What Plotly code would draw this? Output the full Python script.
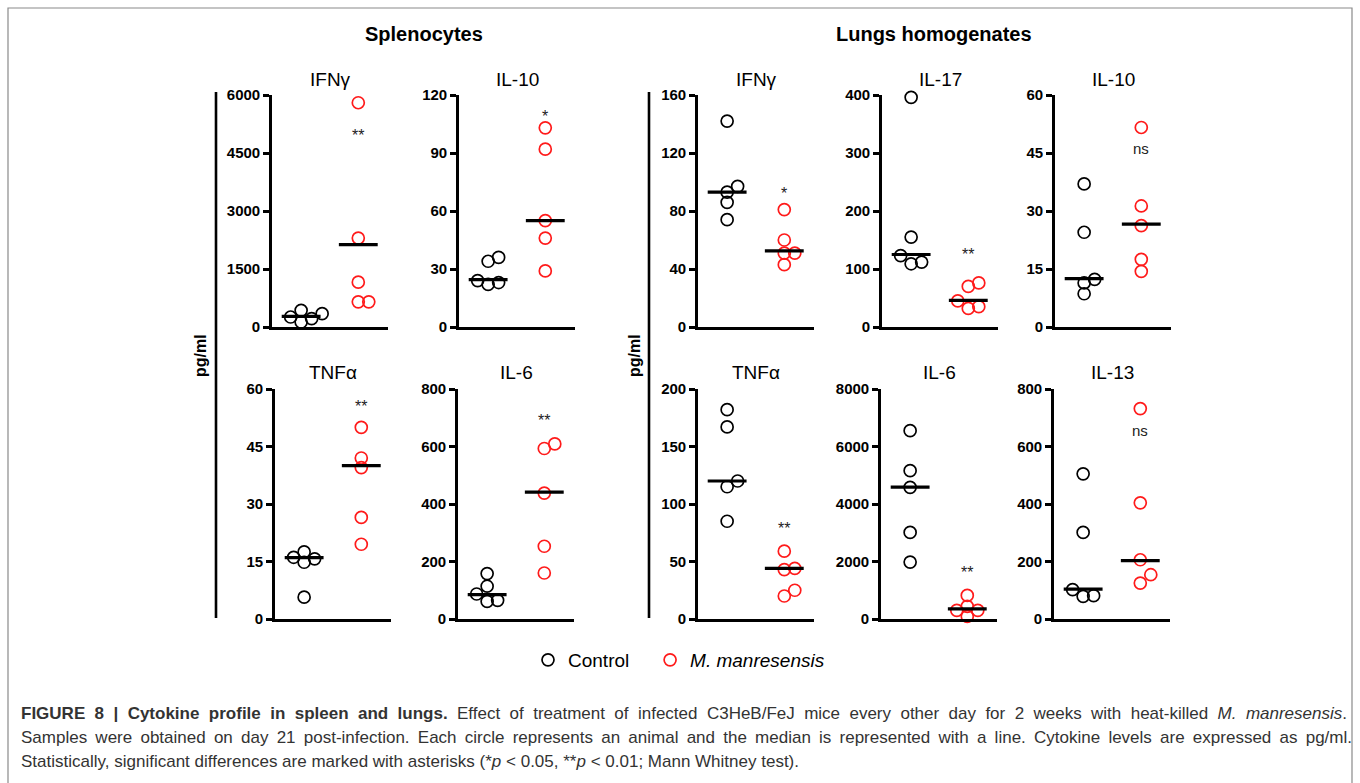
import plotly.graph_objects as go
import numpy as np

W, H = 1360, 783

# ---------------- data (pg/ml) ----------------
panel_titles = ["IFNγ", "IL-10", "TNFα", "IL-6", "IFNγ", "IL-17", "IL-10", "TNFα", "IL-6", "IL-13"]
groups = ["Control", "M. manresensis"]

spl_ifng_ctrl = [430, 344, 258, 215, 129]
spl_ifng_mm = [5800, 2300, 1160, 650, 650]
spl_ifng_line = [275, 2130]

spl_il10_ctrl = [36, 34, 24, 23, 22]
spl_il10_mm = [103, 92, 55, 46, 29]
spl_il10_line = [24.5, 55]

spl_tnfa_ctrl = [17.5, 16.1, 15.7, 14.8, 5.7]
spl_tnfa_mm = [50, 42, 39.5, 26.5, 19.5]
spl_tnfa_line = [16, 40]

spl_il6_ctrl = [158, 114, 87, 65, 61]
spl_il6_mm = [609, 593, 438, 253, 160]
spl_il6_line = [85, 441]

lun_ifng_ctrl = [142, 97, 93, 86, 74]
lun_ifng_mm = [81, 60, 51, 51, 43]
lun_ifng_line = [93, 52.5]

lun_il17_ctrl = [396, 155, 123, 112, 109]
lun_il17_mm = [76, 70, 45, 35, 32]
lun_il17_line = [125, 46]

lun_il10_ctrl = [37, 24.5, 12.3, 11.4, 8.6]
lun_il10_mm = [51.6, 31.3, 26.2, 17.5, 14.4]
lun_il10_line = [12.5, 26.6]

lun_tnfa_ctrl = [182, 167, 120, 115, 85]
lun_tnfa_mm = [59, 44, 43, 25, 20]
lun_tnfa_line = [120, 44]

lun_il6_ctrl = [6550, 5160, 4580, 3010, 1980]
lun_il6_mm = [820, 440, 300, 300, 90]
lun_il6_line = [4590, 350]

lun_il13_ctrl = [505, 301, 102, 81, 79]
lun_il13_mm = [732, 404, 206, 154, 125]
lun_il13_line = [104, 203]

y_max = [6000, 120, 60, 800, 160, 400, 60, 200, 8000, 800]
y_step = [1500, 30, 15, 200, 40, 100, 15, 50, 2000, 200]
sig_text = ["**", "*", "**", "**", "*", "**", "ns", "**", "**", "ns"]
sig_level = [5050, 111, 56.5, 705, 95, 132, 46.2, 82, 1750, 656]

ctrl_sets = [spl_ifng_ctrl, spl_il10_ctrl, spl_tnfa_ctrl, spl_il6_ctrl, lun_ifng_ctrl,
             lun_il17_ctrl, lun_il10_ctrl, lun_tnfa_ctrl, lun_il6_ctrl, lun_il13_ctrl]
mm_sets = [spl_ifng_mm, spl_il10_mm, spl_tnfa_mm, spl_il6_mm, lun_ifng_mm,
           lun_il17_mm, lun_il10_mm, lun_tnfa_mm, lun_il6_mm, lun_il13_mm]
line_sets = [spl_ifng_line, spl_il10_line, spl_tnfa_line, spl_il6_line, lun_ifng_line,
             lun_il17_line, lun_il10_line, lun_tnfa_line, lun_il6_line, lun_il13_line]

# ---------------- layout geometry (pixels) ----------------
panel_left = [272, 459, 275, 458, 698, 882, 1055, 698, 881, 1054]
panel_row = [0, 0, 1, 1, 0, 0, 0, 1, 1, 1]
row_top = [95, 389]
row_zero = [327, 619]
PW = 116
XR = [0.49, 2.52]
XPX = PW / (XR[1] - XR[0])

FONT = "Liberation Sans, Arial, Helvetica, sans-serif"
RED = "#ff1a1a"


def swarm(vals, ypx, step=10.5, diam=9.5):
    vals = np.asarray(vals, float)
    order = np.argsort(vals, kind="stable")
    placed = []
    offs = np.zeros(len(vals))
    cands = [0, 1, -1, 2, -2, 3, -3]
    for i in order:
        y = vals[i] * ypx
        chosen = 0
        for c in cands:
            x = c * step
            if all((x - px) ** 2 + (y - py) ** 2 >= diam ** 2 for px, py in placed):
                chosen = x
                break
        placed.append((chosen, y))
        offs[i] = chosen / XPX
    return offs


fig = go.Figure()
annotations = []
shapes = []

for k in range(10):
    ax = "" if k == 0 else str(k + 1)
    xa, ya = "x" + ax, "y" + ax
    r = panel_row[k]
    top, zero = row_top[r], row_zero[r]
    ypx = (zero - top) / y_max[k]
    x0 = panel_left[k]
    tv = list(np.arange(0, y_max[k] + 1e-9, y_step[k]))
    fig.update_layout(**{
        "xaxis" + ax: dict(domain=[x0 / W, (x0 + PW) / W], range=XR, showline=True,
                           linewidth=2.6, linecolor="black", showticklabels=False,
                           ticks="", showgrid=False, zeroline=False, anchor=ya,
                           fixedrange=True, automargin=False),
        "yaxis" + ax: dict(domain=[1 - zero / H, 1 - top / H], range=[0, y_max[k]],
                           showline=True, linewidth=2.6, linecolor="black",
                           ticks="outside", ticklen=6, tickwidth=2.6, tickcolor="black",
                           tickvals=tv, ticktext=[f"{v:g}" for v in tv],
                           tickfont=dict(family=FONT, size=15, color="black", weight="bold"),
                           showgrid=False, zeroline=False, anchor=xa, fixedrange=True,
                           automargin=False),
    })
    for g, (vals, col) in enumerate([(ctrl_sets[k], "black"), (mm_sets[k], RED)]):
        xs = (g + 1) + swarm(vals, ypx)
        fig.add_trace(go.Scatter(
            x=xs, y=vals, mode="markers", xaxis=xa, yaxis=ya, cliponaxis=False,
            marker=dict(symbol="circle-open", size=12, color=col, line=dict(width=1.7, color=col)),
            name="<i>M. manresensis</i>" if g == 1 else "Control&nbsp;&nbsp;&nbsp;",
            showlegend=(k == 0), legendrank=g + 1, hoverinfo="y"))
        lv = line_sets[k][g]
        fig.add_trace(go.Scatter(
            x=[g + 1 - 0.34, g + 1 + 0.34], y=[lv, lv], mode="lines", xaxis=xa, yaxis=ya,
            line=dict(color="black", width=3.2), showlegend=False, hoverinfo="skip",
            cliponaxis=False))
    is_ast = sig_text[k].startswith("*")
    annotations.append(dict(x=2, y=sig_level[k], xref=xa, yref=ya, text=sig_text[k],
                            showarrow=False, yshift=-4 if is_ast else 0,
                            font=dict(family=FONT, size=16 if is_ast else 15, color="#222")))
    annotations.append(dict(x=(x0 + PW / 2) / W, y=1 - (top - 16) / H, xref="paper", yref="paper",
                            text=panel_titles[k], showarrow=False, xanchor="center", yanchor="middle",
                            font=dict(family=FONT, size=19, color="black")))

# section titles
for txt, cx in [("Splenocytes", 424), ("Lungs homogenates", 934)]:
    annotations.append(dict(x=cx / W, y=1 - 34 / H, xref="paper", yref="paper", text=f"<b>{txt}</b>",
                            showarrow=False, xanchor="center", yanchor="middle",
                            font=dict(family=FONT, size=20, color="black")))

# pg/ml brackets
for lx, tx in [(216, 200), (649, 634)]:
    shapes.append(dict(type="line", xref="paper", yref="paper", x0=lx / W, x1=lx / W,
                       y0=1 - 92 / H, y1=1 - 618 / H, line=dict(color="black", width=2.6)))
    annotations.append(dict(x=tx / W, y=1 - 356 / H, xref="paper", yref="paper", text="<b>pg/ml</b>",
                            textangle=-90, showarrow=False, xanchor="center", yanchor="middle",
                            font=dict(family=FONT, size=16, color="black")))

# border
shapes.append(dict(type="rect", xref="paper", yref="paper", x0=8 / W, x1=1352 / W,
                   y0=-0.05, y1=1 - 8 / H, line=dict(color="#8a8a8a", width=1.2),
                   fillcolor="rgba(0,0,0,0)", layer="below"))

# caption
caption = [
    "<b>FIGURE 8 | Cytokine profile in spleen and lungs.</b> Effect of treatment of infected C3HeB/FeJ mice "
    "every other day for 2 weeks with heat-killed <i>M. manresensis</i>.",
    "Samples were obtained on day 21 post-infection. Each circle represents an animal and the median is "
    "represented with a line. Cytokine levels are expressed as pg/ml.",
    "Statistically, significant differences are marked with asterisks (*<i>p</i> &lt; 0.05, **<i>p</i> &lt; 0.01; "
    "Mann Whitney test).",
]
for i, line in enumerate(caption):
    annotations.append(dict(x=19 / W, y=1 - (713 + 24 * i) / H, xref="paper", yref="paper", text=line,
                            showarrow=False, xanchor="left", yanchor="middle", align="left",
                            font=dict(family=FONT, size=17, color="#333333")))

fig.update_layout(
    width=W, height=H, margin=dict(l=0, r=0, t=0, b=0, autoexpand=False),
    paper_bgcolor="white", plot_bgcolor="rgba(0,0,0,0)",
    annotations=annotations, shapes=shapes,
    showlegend=True,
    legend=dict(orientation="h", x=528 / W, xanchor="left", y=1 - 660 / H, yanchor="middle",
                font=dict(family=FONT, size=19, color="black"),
                bgcolor="rgba(0,0,0,0)", itemclick=False, itemdoubleclick=False),
)

justify_js = """
document.body.style.margin='0';
document.body.style.overflow='hidden';
(function(){
  var gd = document.getElementsByClassName('plotly-graph-div')[0];
  function just(){
    var texts = gd.querySelectorAll('text.annotation-text');
    texts.forEach(function(t){
      var s = t.textContent || '';
      var target = null;
      if (s.indexOf('FIGURE 8') === 0) target = 1326;
      else if (s.indexOf('Samples were') === 0) target = 1331;
      if (target !== null) {
        t.style.wordSpacing = '0px';
        var w = t.getComputedTextLength();
        var n = (s.match(/ /g) || []).length;
        if (n > 0 && w < target) t.style.wordSpacing = ((target - w) / n) + 'px';
      }
    });
  }
  just();
  if (gd.on) gd.on('plotly_afterplot', just);
})();
"""

fig.write_html("out.html", include_plotlyjs=True, config={"displayModeBar": False},
               post_script=justify_js)
